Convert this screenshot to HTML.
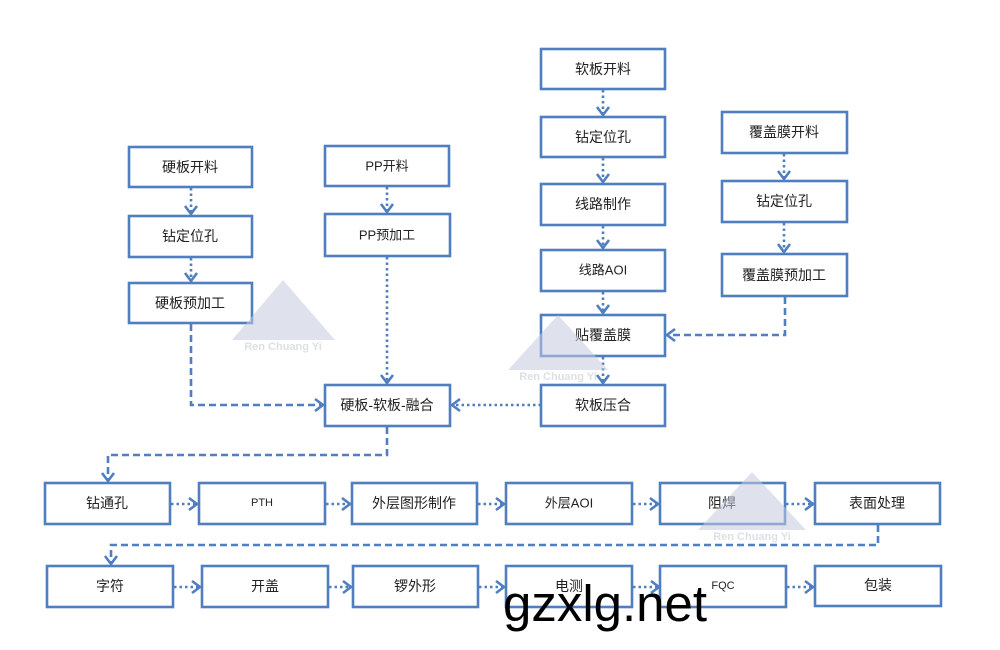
<!DOCTYPE html>
<html><head><meta charset="utf-8"><style>
html,body{margin:0;padding:0;background:#fff;}
svg{display:block;}
.b{fill:#fff;stroke:#4f7fc0;stroke-width:2.6;}
.t{font-family:"Liberation Sans","Noto Sans CJK SC",sans-serif;font-size:14px;fill:#222;text-anchor:middle;dominant-baseline:central;}
.dot{stroke:#4f7fc0;stroke-width:2.6;fill:none;stroke-dasharray:2.5 3;}
.dash{stroke:#4f7fc0;stroke-width:2.6;fill:none;stroke-dasharray:7 4;}
.ah{stroke:#4f7fc0;stroke-width:2.6;fill:none;}
.wm{fill:#c5cadf;opacity:0.55;}
.wt{font-family:"Liberation Sans",sans-serif;font-weight:bold;font-size:11px;fill:#d5d8e2;text-anchor:middle;opacity:0.8;}
</style></head><body>
<svg width="1000" height="650" viewBox="0 0 1000 650" xmlns="http://www.w3.org/2000/svg">
<!-- connectors -->
<g>
<line class="dot" x1="191" y1="188" x2="191" y2="214"/><polyline class="ah" points="185,206 191,214 197,206"/>
<line class="dot" x1="191" y1="258" x2="191" y2="281"/><polyline class="ah" points="185,273 191,281 197,273"/>
<line class="dot" x1="387" y1="187" x2="387" y2="212"/><polyline class="ah" points="381,204 387,212 393,204"/>
<line class="dot" x1="387" y1="257" x2="387" y2="383"/><polyline class="ah" points="381,375 387,383 393,375"/>
<polyline class="dash" points="191,324 191,405 323,405"/><polyline class="ah" points="315,399 323,405 315,411"/>
<line class="dot" x1="541" y1="405" x2="452" y2="405"/><polyline class="ah" points="460,399 452,405 460,411"/>

<line class="dot" x1="603" y1="90" x2="603" y2="115"/><polyline class="ah" points="597,107 603,115 609,107"/>
<line class="dot" x1="603" y1="158" x2="603" y2="182"/><polyline class="ah" points="597,174 603,182 609,174"/>
<line class="dot" x1="603" y1="226" x2="603" y2="248"/><polyline class="ah" points="597,240 603,248 609,240"/>
<line class="dot" x1="603" y1="292" x2="603" y2="313"/><polyline class="ah" points="597,305 603,313 609,305"/>
<line class="dot" x1="603" y1="357" x2="603" y2="383"/><polyline class="ah" points="597,375 603,383 609,375"/>

<line class="dot" x1="784" y1="154" x2="784" y2="179"/><polyline class="ah" points="778,171 784,179 790,171"/>
<line class="dot" x1="784" y1="223" x2="784" y2="252"/><polyline class="ah" points="778,244 784,252 790,244"/>
<polyline class="dash" points="785,297 785,335 667,335"/><polyline class="ah" points="675,329 667,335 675,341"/>

<polyline class="dash" points="387,427 387,455 108,455 108,481"/><polyline class="ah" points="102,473 108,481 114,473"/>
<polyline class="dash" points="878,525 878,545 111,545 111,564"/><polyline class="ah" points="105,556 111,564 117,556"/>

<line class="dot" x1="171" y1="504" x2="197" y2="504"/><polyline class="ah" points="189,498 197,504 189,510"/>
<line class="dot" x1="326" y1="504" x2="350" y2="504"/><polyline class="ah" points="342,498 350,504 342,510"/>
<line class="dot" x1="478" y1="504" x2="504" y2="504"/><polyline class="ah" points="496,498 504,504 496,510"/>
<line class="dot" x1="633" y1="504" x2="658" y2="504"/><polyline class="ah" points="650,498 658,504 650,510"/>
<line class="dot" x1="786" y1="504" x2="813" y2="504"/><polyline class="ah" points="805,498 813,504 805,510"/>

<line class="dot" x1="174" y1="587" x2="200" y2="587"/><polyline class="ah" points="192,581 200,587 192,593"/>
<line class="dot" x1="329" y1="587" x2="351" y2="587"/><polyline class="ah" points="343,581 351,587 343,593"/>
<line class="dot" x1="479" y1="587" x2="504" y2="587"/><polyline class="ah" points="496,581 504,587 496,593"/>
<line class="dot" x1="633" y1="587" x2="659" y2="587"/><polyline class="ah" points="651,581 659,587 651,593"/>
<line class="dot" x1="787" y1="587" x2="813" y2="587"/><polyline class="ah" points="805,581 813,587 805,593"/>
</g>

<!-- boxes -->
<rect class="b" x="129" y="147" width="123" height="40"/><text class="t" x="190" y="167">硬板开料</text>
<rect class="b" x="129" y="216" width="123" height="41"/><text class="t" x="190" y="236">钻定位孔</text>
<rect class="b" x="129" y="283" width="123" height="40"/><text class="t" x="190" y="303">硬板预加工</text>
<rect class="b" x="325" y="146" width="124" height="40"/><text class="t" x="387" y="166" style="font-size:13px">PP开料</text>
<rect class="b" x="325" y="214" width="125" height="42"/><text class="t" x="387" y="235" style="font-size:13px">PP预加工</text>
<rect class="b" x="325" y="385" width="125" height="41"/><text class="t" x="387" y="405">硬板-软板-融合</text>

<rect class="b" x="541" y="49" width="124" height="40"/><text class="t" x="603" y="69">软板开料</text>
<rect class="b" x="541" y="117" width="124" height="40"/><text class="t" x="603" y="137">钻定位孔</text>
<rect class="b" x="541" y="184" width="124" height="41"/><text class="t" x="603" y="204">线路制作</text>
<rect class="b" x="541" y="250" width="124" height="41"/><text class="t" x="603" y="270" style="font-size:13px">线路AOI</text>
<rect class="b" x="541" y="315" width="124" height="41"/><text class="t" x="603" y="335">贴覆盖膜</text>
<rect class="b" x="541" y="385" width="124" height="41"/><text class="t" x="603" y="405">软板压合</text>

<rect class="b" x="722" y="112" width="125" height="41"/><text class="t" x="784" y="132">覆盖膜开料</text>
<rect class="b" x="722" y="181" width="125" height="41"/><text class="t" x="784" y="201">钻定位孔</text>
<rect class="b" x="722" y="254" width="125" height="42"/><text class="t" x="784" y="275">覆盖膜预加工</text>

<rect class="b" x="45" y="483" width="125" height="41"/><text class="t" x="107" y="503">钻通孔</text>
<rect class="b" x="199" y="483" width="126" height="41"/><text class="t" x="262" y="503" style="font-size:11px">PTH</text>
<rect class="b" x="352" y="483" width="125" height="41"/><text class="t" x="414" y="503">外层图形制作</text>
<rect class="b" x="506" y="483" width="126" height="41"/><text class="t" x="569" y="503" style="font-size:13px">外层AOI</text>
<rect class="b" x="660" y="483" width="125" height="41"/><text class="t" x="722" y="503">阻焊</text>
<rect class="b" x="815" y="483" width="125" height="41"/><text class="t" x="877" y="503">表面处理</text>

<rect class="b" x="47" y="566" width="126" height="41"/><text class="t" x="110" y="586">字符</text>
<rect class="b" x="202" y="566" width="126" height="41"/><text class="t" x="265" y="586">开盖</text>
<rect class="b" x="353" y="566" width="125" height="41"/><text class="t" x="415" y="586">锣外形</text>
<rect class="b" x="506" y="566" width="126" height="41"/><text class="t" x="569" y="586">电测</text>
<rect class="b" x="660" y="566" width="126" height="41"/><text class="t" x="723" y="586" style="font-size:11px">FQC</text>
<rect class="b" x="815" y="566" width="126" height="40"/><text class="t" x="878" y="585">包装</text>

<!-- watermarks on top, translucent -->
<polygon class="wm" points="283,280 232,340 335,340"/>
<text class="wt" x="283" y="350">Ren Chuang Yi</text>
<polygon class="wm" points="558,315 508,370 608,370"/>
<text class="wt" x="558" y="380">Ren Chuang Yi</text>
<polygon class="wm" points="752,472 698,530 806,530"/>
<text class="wt" x="752" y="540">Ren Chuang Yi</text>

<text x="503" y="621" textLength="204" lengthAdjust="spacingAndGlyphs" style="font-family:'Liberation Sans',sans-serif;font-size:51px;fill:#000;">gzxlg.net</text>
</svg>
</body></html>
